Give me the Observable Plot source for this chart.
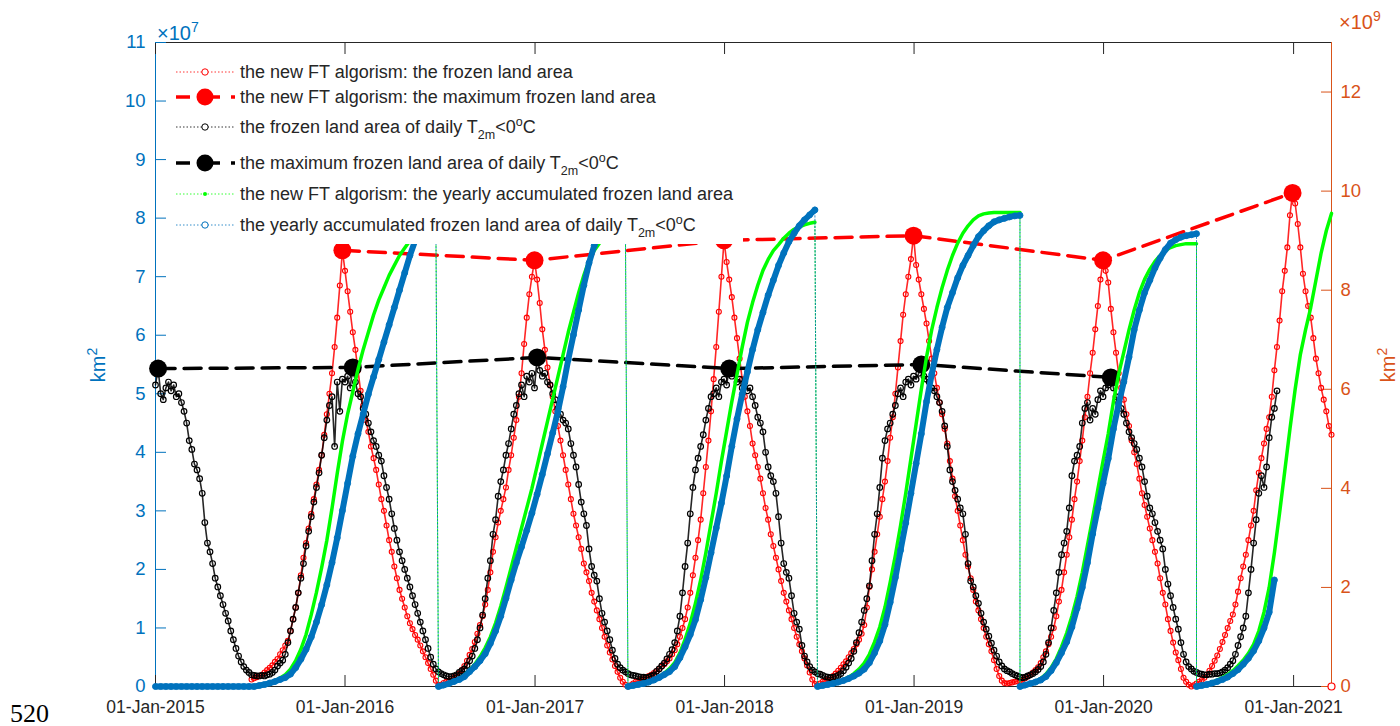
<!DOCTYPE html>
<html><head><meta charset="utf-8">
<script src="https://cdn.jsdelivr.net/npm/d3@7"></script>
<script src="https://cdn.jsdelivr.net/npm/@observablehq/plot@0.6"></script>
<style>
html,body{margin:0;padding:0;background:#fff;}
#chart{width:1400px;height:726px;}
</style></head><body><div id="chart"></div>
<script>
// ---------- DATA (days counted from 01-Jan-2015) ----------
const yearTicks = [2015, 2016, 2017, 2018, 2019, 2020, 2021];
const leftTicks = [0, 1, 2, 3, 4, 5, 6, 7, 8, 9, 10, 11];      // x10^7 km2
const rightTicks = [0, 2, 4, 6, 8, 10, 12];                    // x10^9 km2

// new FT algorism: daily frozen land area (x10^7), every 5 days
const redStarts = [185, 550, 915, 1280, 1645, 2010];
const redY1 = [0.12,0.14,0.16,0.18,0.2,0.24,0.28,0.32,0.36,0.42,0.47,0.55,0.62,0.7,0.78,0.95,1.15,1.35,1.6,1.9,2.2,2.45,2.7,2.95,3.2,3.45,3.7,3.95,4.3,4.65,5.0,5.35,5.8,6.3,6.85,7.45,7.1,6.75,6.4,6.05,5.75,5.4,5.05,4.8,4.55,4.35,4.1,3.9,3.7,3.45,3.2,3.0,2.75,2.5,2.3,2.05,1.85,1.65,1.5,1.35,1.2,1.08,0.98,0.88,0.8,0.7,0.6,0.5,0.4,0.3,0.2,0.1,0.02];
const redY2 = [0.03,0.06,0.08,0.1,0.13,0.16,0.19,0.22,0.28,0.35,0.44,0.54,0.64,0.76,0.9,1.05,1.2,1.4,1.65,1.95,2.3,2.55,2.8,3.0,3.2,3.4,3.7,3.95,4.25,4.55,4.95,5.35,5.85,6.3,6.7,7.0,7.28,6.95,6.55,6.1,5.75,5.45,5.15,4.95,4.7,4.45,4.2,3.95,3.7,3.45,3.2,2.95,2.75,2.55,2.35,2.1,1.95,1.8,1.6,1.45,1.3,1.15,1.0,0.85,0.7,0.58,0.46,0.35,0.25,0.15,0.08,0.03,0.0];
const redY3 = [0.02,0.05,0.08,0.1,0.12,0.14,0.16,0.18,0.2,0.23,0.26,0.3,0.34,0.38,0.43,0.48,0.55,0.62,0.72,0.85,1.0,1.15,1.35,1.6,1.9,2.2,2.5,2.85,3.3,3.75,4.2,4.7,5.25,5.8,6.4,7.0,7.62,7.25,6.95,6.65,6.3,5.95,5.6,5.25,4.95,4.7,4.45,4.15,3.95,3.75,3.55,3.3,3.05,2.85,2.6,2.4,2.2,2.0,1.8,1.6,1.45,1.3,1.15,1.0,0.85,0.72,0.6,0.48,0.36,0.24,0.12,0.04,0.02];
const redY4 = [0.05,0.08,0.1,0.12,0.15,0.18,0.22,0.27,0.32,0.38,0.43,0.5,0.57,0.64,0.72,0.8,0.9,1.05,1.35,1.7,2.0,2.3,2.6,2.9,3.2,3.5,3.85,4.25,4.6,5.0,5.45,5.9,6.35,6.7,7.0,7.3,7.7,7.2,6.95,6.7,6.45,6.2,5.9,5.6,5.35,5.1,4.85,4.65,4.4,4.15,3.85,3.55,3.25,3.0,2.75,2.5,2.25,2.05,1.85,1.65,1.45,1.3,1.15,1.0,0.85,0.72,0.6,0.45,0.3,0.18,0.1,0.06,0.05];
const redY5 = [0.06,0.07,0.08,0.09,0.1,0.12,0.14,0.17,0.2,0.24,0.28,0.33,0.4,0.5,0.6,0.72,0.85,1.0,1.2,1.45,1.65,1.95,2.25,2.55,2.85,3.2,3.5,3.85,4.2,4.6,4.95,5.35,5.7,6.1,6.5,6.95,7.28,7.1,6.9,6.45,6.05,5.7,5.35,5.1,4.9,4.65,4.45,4.2,4.0,3.8,3.55,3.3,3.1,2.9,2.7,2.5,2.3,2.1,1.85,1.6,1.4,1.15,0.95,0.75,0.58,0.45,0.3,0.15,0.08,0.03,0.0,0.02,0.05];
const redY6 = [0.08,0.11,0.15,0.2,0.27,0.35,0.44,0.53,0.64,0.76,0.88,1.0,1.12,1.23,1.4,1.62,1.85,2.05,2.25,2.5,2.75,3.0,3.35,3.65,3.9,4.15,4.4,4.6,4.95,5.4,5.8,6.25,6.75,7.1,7.5,8.05,8.43,8.25,7.9,7.5,7.05,6.75,6.5,6.3,5.95,5.6,5.35,5.1,4.9,4.7,4.45,4.3];
const redTailDay = [2265];
const redTailVal = [0];

// new FT algorism: maximum frozen land area (x10^7)
const redMaxDays = [360, 730, 1095, 1460, 1825, 2190];
const redMaxVals = [7.45, 7.28, 7.62, 7.70, 7.28, 8.43];

// frozen land area of daily T2m<0C (x10^7), every 5 days
const blackStarts = [0, 590, 955, 1320, 1685, 2050];
const blackY1 = [5.15,5.43,5.0,4.9,5.1,5.2,5.05,5.15,4.95,5.0,4.85,4.7,4.5,4.2,4.05,3.8,3.7,3.55,3.3,2.8,2.45,2.3,2.1,1.85,1.7,1.55,1.4,1.25,1.12,0.95,0.8,0.65,0.52,0.42,0.34,0.28,0.24,0.2,0.19,0.18,0.18,0.19,0.18,0.2,0.21,0.24,0.28,0.35,0.4,0.45,0.55,0.75,0.95,1.15,1.35,1.6,1.85,2.1,2.4,2.65,2.9,3.15,3.4,3.65,3.95,4.25,4.55,4.8,4.95,4.1,5.2,4.7,5.25,5.2,5.3,5.1,5.45,5.2,5.0,4.95,4.75,4.65,4.5,4.35,4.2,4.1,3.95,3.85,3.6,3.4,3.2,2.95,2.7,2.5,2.3,2.15,2.0,1.85,1.7,1.55,1.4,1.25,1.1,0.95,0.8,0.65,0.5,0.38,0.3,0.25,0.22,0.2,0.18,0.17,0.17,0.18,0.2,0.24];
const blackY2 = [0.27,0.3,0.36,0.44,0.52,0.65,0.8,1.0,1.22,1.5,1.85,2.15,2.6,2.85,3.25,3.5,3.7,3.95,4.15,4.4,4.65,4.8,5.0,5.15,4.95,5.3,5.2,5.35,5.1,5.62,5.4,5.3,5.35,5.2,5.15,5.0,4.9,4.75,4.65,4.55,4.5,4.4,4.15,3.95,3.75,3.45,3.15,2.95,2.75,2.35,2.05,1.9,1.8,1.5,1.25,1.1,0.95,0.8,0.62,0.48,0.38,0.32,0.28,0.25,0.22,0.2,0.19,0.18,0.17,0.16,0.16,0.15,0.16];
const blackY3 = [0.18,0.2,0.26,0.3,0.35,0.4,0.47,0.55,0.63,0.75,0.95,1.2,1.6,2.05,2.45,2.95,3.4,3.7,3.9,4.1,4.3,4.55,4.75,4.95,5.0,5.1,4.95,5.2,5.25,5.15,5.43,5.3,5.35,5.2,5.25,5.1,5.2,5.05,5.1,4.95,4.8,4.6,4.5,4.35,4.0,3.75,3.6,3.5,3.3,2.9,2.45,2.1,1.95,1.85,1.55,1.25,1.1,0.98,0.7,0.52,0.42,0.34,0.28,0.25,0.22,0.21,0.19,0.17,0.16,0.15,0.16,0.17,0.19];
const blackY4 = [0.22,0.27,0.33,0.4,0.48,0.6,0.75,0.92,1.1,1.3,1.5,1.72,2.15,2.6,2.95,3.4,3.9,4.2,4.4,4.5,4.65,4.8,5.0,5.1,4.95,5.2,5.25,5.15,5.3,5.25,5.35,5.5,5.3,5.25,5.2,5.1,5.05,4.95,4.85,4.7,4.45,4.1,3.7,3.5,3.35,3.2,3.05,2.95,2.6,2.1,1.8,1.7,1.55,1.42,1.25,1.1,0.98,0.86,0.74,0.62,0.52,0.42,0.35,0.3,0.27,0.25,0.22,0.2,0.18,0.16,0.15,0.16,0.18];
const blackY5 = [0.2,0.22,0.25,0.29,0.34,0.42,0.55,0.75,1.0,1.3,1.6,1.95,2.25,2.45,2.65,3.05,3.6,3.85,3.95,4.1,4.5,4.75,4.85,4.55,4.75,4.65,4.9,5.05,4.95,5.1,5.15,5.28,5.1,4.95,4.85,4.75,4.65,4.5,4.35,4.25,4.15,4.05,3.9,3.75,3.5,3.25,3.05,2.95,2.8,2.65,2.5,2.35,2.0,1.75,1.55,1.35,1.15,0.98,0.75,0.55,0.42,0.34,0.3,0.26,0.24,0.22,0.21,0.2,0.2,0.21,0.21,0.22,0.22];
const blackY6 = [0.23,0.25,0.28,0.32,0.38,0.44,0.55,0.7,0.85,1.0,1.2,1.6,2.0,2.45,2.85,3.3,3.6,3.4,3.75,4.25,4.6,4.75,5.05];

// maximum frozen land area of daily T2m<0C (x10^7)
const blackMaxDays = [5, 380, 735, 1105, 1475, 1840];
const blackMaxVals = [5.43, 5.45, 5.62, 5.43, 5.50, 5.28];

// yearly accumulated frozen land area (x10^9), every 10 days, one array per season
const greenStarts = [190, 545, 910, 1275, 1665, 2005];
const greenS1 = [0,0.02,0.05,0.08,0.12,0.17,0.24,0.35,0.52,0.75,1.05,1.45,1.9,2.4,2.95,3.6,4.3,4.95,5.5,5.95,6.4,6.8,7.15,7.5,7.8,8.05,8.3,8.5,8.7,8.85,9.0,9.12,9.22,9.3,9.35,9.38];
const greenS2 = [0,0.03,0.07,0.11,0.16,0.23,0.33,0.45,0.6,0.78,1.0,1.28,1.62,2.0,2.4,2.8,3.2,3.6,4.0,4.45,4.9,5.35,5.8,6.25,6.7,7.15,7.55,7.95,8.3,8.6,8.8,8.95,9.05,9.15,9.22,9.27,9.3];
const greenS3 = [0,0.02,0.04,0.07,0.1,0.14,0.2,0.27,0.36,0.48,0.68,0.95,1.28,1.68,2.15,2.7,3.3,3.9,4.55,5.15,5.75,6.3,6.85,7.35,7.75,8.1,8.4,8.62,8.8,8.92,9.05,9.15,9.23,9.28,9.32,9.35,9.37];
const greenS4 = [0,0.02,0.04,0.07,0.1,0.14,0.19,0.26,0.35,0.47,0.65,0.9,1.2,1.6,2.1,2.65,3.25,3.9,4.6,5.3,6.0,6.65,7.2,7.65,8.05,8.4,8.7,8.95,9.15,9.3,9.42,9.5,9.54,9.56,9.57,9.57,9.57,9.57,9.57,9.57];
const greenS5 = [0,0.03,0.06,0.1,0.16,0.25,0.38,0.56,0.8,1.08,1.42,1.82,2.3,2.85,3.4,3.98,4.55,5.1,5.75,6.3,6.75,7.2,7.6,7.95,8.22,8.42,8.58,8.7,8.8,8.86,8.9,8.92,8.94,8.94,8.94];
const greenS6 = [0,0.02,0.05,0.09,0.13,0.18,0.24,0.32,0.42,0.53,0.67,0.85,1.12,1.5,2.0,2.7,3.5,4.35,5.2,6.0,6.7,7.2,7.65,8.2,8.75,9.2,9.55];

const blueStarts = [0, 545, 910, 1275, 1665, 2005];
const blueS1 = [0,0,0,0,0,0,0,0,0,0,0,0,0,0,0,0,0,0,0,0,0.02,0.04,0.07,0.1,0.14,0.18,0.25,0.38,0.55,0.75,1.0,1.3,1.65,2.05,2.5,3.0,3.55,4.1,4.65,5.1,5.5,5.9,6.25,6.6,6.95,7.3,7.65,8.0,8.35,8.7,9.0,9.2,9.35,9.45,9.5];
const blueS2 = [0,0.03,0.06,0.1,0.14,0.2,0.3,0.4,0.52,0.66,0.87,1.12,1.42,1.78,2.15,2.5,2.82,3.15,3.5,3.88,4.28,4.7,5.12,5.55,6.05,6.6,7.1,7.6,8.1,8.55,8.9,9.15,9.35,9.48,9.56,9.62,9.66];
const blueS3 = [0,0.02,0.04,0.06,0.09,0.13,0.18,0.24,0.3,0.4,0.58,0.8,1.05,1.35,1.75,2.2,2.7,3.2,3.7,4.25,4.85,5.4,5.9,6.35,6.8,7.2,7.55,7.9,8.2,8.5,8.75,8.98,9.15,9.3,9.42,9.52,9.62];
const blueS4 = [0,0.02,0.04,0.06,0.09,0.12,0.16,0.21,0.27,0.35,0.48,0.68,0.92,1.25,1.7,2.2,2.75,3.3,3.9,4.5,5.1,5.75,6.3,6.8,7.25,7.65,7.95,8.25,8.5,8.7,8.9,9.08,9.2,9.3,9.38,9.42,9.45,9.48,9.5,9.51];
const blueS5 = [0,0.03,0.06,0.09,0.13,0.2,0.32,0.48,0.68,0.9,1.2,1.58,2.0,2.5,3.08,3.6,4.1,4.6,5.2,5.7,6.15,6.65,7.2,7.6,7.95,8.2,8.45,8.65,8.82,8.95,9.02,9.07,9.1,9.12,9.14];
const blueS6 = [0,0.02,0.04,0.07,0.1,0.14,0.19,0.26,0.34,0.45,0.57,0.72,0.92,1.18,1.5,2.15];

const legendLabels = [
  [["the new FT algorism: the frozen land area"]],
  [["the new FT algorism: the maximum frozen land area"]],
  [["the frozen land area of daily T"], ["2m", "sub"], ["<0"], ["o", "sup"], ["C"]],
  [["the maximum frozen land area of daily T"], ["2m", "sub"], ["<0"], ["o", "sup"], ["C"]],
  [["the new FT algorism: the yearly accumulated frozen land area"]],
  [["the yearly accumulated frozen land area of daily T"], ["2m", "sub"], ["<0"], ["o", "sup"], ["C"]]
];

// ---------- BUILD ----------
const BLUE = "#0072BD", ORANGE = "#D95319", RED = "#FF0000", GREEN = "#00FF00", INK = "#262626";
const FONT = "'Liberation Sans', Arial, Helvetica, sans-serif";
const DAY = 864e5, T0 = Date.UTC(2015, 0, 1);
const dt = d => new Date(T0 + d * DAY);
const R2L = 11 / 13; // right axis units (1e9, 0-13) mapped onto left axis units (1e7, 0-11)

function build(starts, arrays, step, k = 1) {
  const out = [];
  arrays.forEach((vals, seg) => vals.forEach((v, i) => out.push({date: dt(starts[seg] + i * step), v: v * k, seg})));
  return out;
}
const red = build(redStarts, [redY1, redY2, redY3, redY4, redY5, redY6], 5);
const black = build(blackStarts, [blackY1, blackY2, blackY3, blackY4, blackY5, blackY6], 5);
const green = build(greenStarts, [greenS1, greenS2, greenS3, greenS4, greenS5, greenS6], 10, R2L);
const blue = build(blueStarts, [blueS1, blueS2, blueS3, blueS4, blueS5, blueS6], 10, R2L);
const redMax = redMaxDays.map((d, i) => ({date: dt(d), v: redMaxVals[i]}));
const blackMax = blackMaxDays.map((d, i) => ({date: dt(d), v: blackMaxVals[i]}));
const redTail = redTailDay.map((d, i) => ({date: dt(d), v: redTailVal[i]}));
const xTicks = yearTicks.map(y => new Date(Date.UTC(y, 0, 1)));
const xEnd = dt(2265);

const plot = Plot.plot({
  width: 1400, height: 726,
  marginLeft: 155, marginRight: 69, marginTop: 42, marginBottom: 40,
  style: {fontFamily: FONT, fontSize: "17px", background: "#fff", overflow: "visible", color: INK},
  x: {type: "utc", domain: [dt(0), xEnd]},
  y: {domain: [0, 11]},
  marks: [
    Plot.ruleY([0], {stroke: INK, strokeWidth: 1}),
    Plot.ruleY([11], {stroke: INK, strokeWidth: 1}),
    Plot.ruleX([dt(0)], {stroke: BLUE, strokeWidth: 1}),
    Plot.ruleX([xEnd], {stroke: ORANGE, strokeWidth: 1}),
    Plot.axisX({anchor: "bottom", ticks: xTicks, tickFormat: d3.utcFormat("%d-%b-%Y"), tickSize: 11, dy: -11, tickPadding: 14, color: INK, fontSize: 17.5, label: null}),
    Plot.axisX({anchor: "top", ticks: xTicks, tickFormat: () => "", tickSize: 11, dy: 11, color: INK, label: null}),
    Plot.axisY({anchor: "left", ticks: leftTicks, tickFormat: d => String(d), tickSize: 11, dx: 11, tickPadding: 10, color: BLUE, fontSize: 18.5, label: null}),
    Plot.axisY({anchor: "right", ticks: rightTicks.map(t => t * R2L), tickFormat: t => String(Math.round(t / R2L)), tickSize: 11, dx: -11, tickPadding: 9, color: ORANGE, fontSize: 18.5, label: null}),
    // new FT daily frozen area
    Plot.line(red, {x: "date", y: "v", stroke: RED, strokeWidth: 1.6, strokeOpacity: 0.85}),
    Plot.dot(red, {x: "date", y: "v", r: 2.5, stroke: RED, strokeWidth: 1.1}),
    Plot.line(redMax, {x: "date", y: "v", stroke: RED, strokeWidth: 3.5, strokeDasharray: "17,9"}),
    Plot.dot(redMax, {x: "date", y: "v", r: 9, fill: RED}),
    // daily T2m frozen area
    Plot.line(black, {x: "date", y: "v", stroke: "#000", strokeWidth: 1.6, strokeOpacity: 0.85}),
    Plot.dot(black, {x: "date", y: "v", r: 2.8, stroke: "#000", strokeWidth: 1.2}),
    Plot.line(blackMax, {x: "date", y: "v", stroke: "#000", strokeWidth: 3.5, strokeDasharray: "17,9"}),
    Plot.dot(blackMax, {x: "date", y: "v", r: 9, fill: "#000"}),
    // yearly accumulated (right axis)
    Plot.line(green, {x: "date", y: "v", stroke: GREEN, strokeWidth: 1, strokeDasharray: "1.5,2"}),
    Plot.line(green, {x: "date", y: "v", z: "seg", stroke: GREEN, strokeWidth: 3.5, strokeLinecap: "round"}),
    Plot.line(blue, {x: "date", y: "v", stroke: BLUE, strokeWidth: 0.8, strokeDasharray: "1.5,2"}),
    Plot.line(blue, {x: "date", y: "v", z: "seg", stroke: BLUE, strokeWidth: 6, strokeLinecap: "round"}),
    Plot.dot(blue, {x: "date", y: "v", r: 3, stroke: BLUE, strokeWidth: 1}),
    Plot.dot(redTail, {x: "date", y: "v", r: 3.5, stroke: RED, strokeWidth: 1.2, fill: "#fff"})
  ]
});
document.getElementById("chart").appendChild(plot);

// ---------- decorations: legend, exponents, axis titles ----------
const svg = d3.select(plot);
function rich(sel, parts, small, sub = 6, sup = -7) {
  let shift = 0;
  parts.forEach(([s, mode]) => {
    const t = sel.append("tspan").text(s);
    const want = mode === "sub" ? sub : mode === "sup" ? sup : 0;
    if (want !== shift) t.attr("dy", want - shift);
    shift = want;
    if (mode) t.attr("font-size", small);
  });
}
const lg = svg.append("g").attr("font-family", FONT).attr("text-anchor", "start");
lg.append("rect").attr("x", 168).attr("y", 55).attr("width", 575).attr("height", 189).attr("fill", "#fff");
const rowsY = [72, 97, 127, 163, 194, 225];
const rowStyle = [
  {c: RED, big: false}, {c: RED, big: true}, {c: "#000", big: false},
  {c: "#000", big: true}, {c: GREEN, big: false, dot: true}, {c: BLUE, big: false}
];
rowsY.forEach((y, i) => {
  const s = rowStyle[i];
  if (s.big) {
    lg.append("line").attr("x1", 176).attr("x2", 235).attr("y1", y).attr("y2", y)
      .attr("stroke", s.c).attr("stroke-width", 3.5).attr("stroke-dasharray", "14,7,23,11,4");
    lg.append("circle").attr("cx", 205).attr("cy", y).attr("r", 8.5).attr("fill", s.c);
  } else {
    lg.append("line").attr("x1", 176).attr("x2", 235).attr("y1", y).attr("y2", y)
      .attr("stroke", s.c).attr("stroke-width", 0.8).attr("stroke-dasharray", "1.5,2");
    if (s.dot) lg.append("circle").attr("cx", 205).attr("cy", y).attr("r", 2).attr("fill", s.c);
    else lg.append("circle").attr("cx", 205).attr("cy", y).attr("r", 3.2).attr("fill", "#fff").attr("stroke", s.c).attr("stroke-width", 1);
  }
  const t = lg.append("text").attr("x", 240).attr("y", y + 6).attr("font-size", 18).attr("fill", INK);
  rich(t, legendLabels[i], 12.5);
});

const deco = svg.append("g").attr("font-family", FONT).attr("text-anchor", "start");
const e7 = deco.append("text").attr("x", 157).attr("y", 40).attr("font-size", 20).attr("fill", BLUE);
rich(e7, [["\u00d710"], ["7", "sup"]], 14, 6, -8);
const e9 = deco.append("text").attr("x", 1339).attr("y", 29).attr("font-size", 20).attr("fill", ORANGE);
rich(e9, [["\u00d710"], ["9", "sup"]], 14, 6, -8);
const kmL = deco.append("text").attr("transform", "translate(105,365) rotate(-90)").attr("text-anchor", "middle").attr("font-size", 20).attr("fill", BLUE);
rich(kmL, [["km"], ["2", "sup"]], 14, 6, -8);
const kmR = deco.append("text").attr("transform", "translate(1395,365) rotate(-90)").attr("text-anchor", "middle").attr("font-size", 20).attr("fill", ORANGE);
rich(kmR, [["km"], ["2", "sup"]], 14, 6, -8);
deco.append("text").attr("x", 10).attr("y", 722).attr("font-family", "'Liberation Serif', 'Times New Roman', serif").attr("font-size", 26).attr("fill", "#000").text("520");
</script>
</body></html>
